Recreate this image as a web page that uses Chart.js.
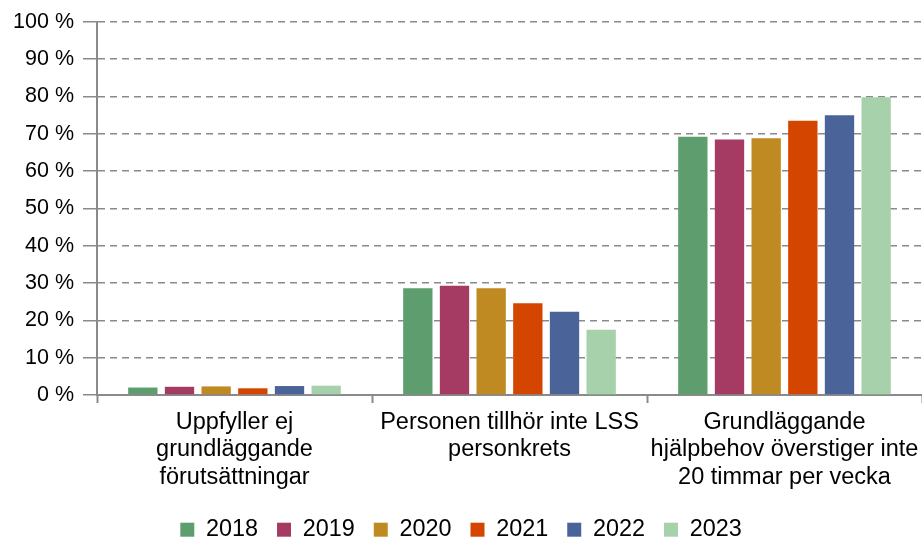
<!DOCTYPE html>
<html>
<head>
<meta charset="utf-8">
<script src="https://cdn.jsdelivr.net/npm/chart.js@4.4.1/dist/chart.umd.min.js"></script>
<style>
  html, body { margin: 0; padding: 0; background: #fff; }
  #wrap { width: 922px; height: 540px; }
</style>
</head>
<body>
<div id="wrap"><canvas id="chart" width="922" height="540"></canvas></div>
<script>
// categories (multi-line labels)
const categories = [
  ["Uppfyller ej", "grundläggande", "förutsättningar"],
  ["Personen tillhör inte LSS", "personkrets"],
  ["Grundläggande", "hjälpbehov överstiger inte", "20 timmar per vecka"]
];

const years = ["2018", "2019", "2020", "2021", "2022", "2023"];

// share in percent, one array per year
const v2018 = [2.0, 28.6, 69.2];
const v2019 = [2.2, 29.3, 68.5];
const v2020 = [2.3, 28.6, 68.8];
const v2021 = [1.8, 24.6, 73.5];
const v2022 = [2.4, 22.3, 75.0];
const v2023 = [2.5, 17.5, 79.8];

const yearColors = ["#5e9e6e", "#a53a62", "#c08a22", "#d44500", "#4a6499", "#a6d1ab"];

const seriesValues = [v2018, v2019, v2020, v2021, v2022, v2023];

const font = "'Liberation Sans', Arial, sans-serif";
const axisGray = "#8a8a8a";

// fixed legend height so the plot area lines up with the reference
const legendFix = {
  id: "legendFix",
  beforeInit(chart) {
    const fit = chart.legend.fit;
    chart.legend.fit = function () {
      fit.bind(chart.legend)();
      this.height = 41;
    };
  }
};

const ctx = document.getElementById("chart").getContext("2d");
new Chart(ctx, {
  type: "bar",
  data: {
    labels: categories,
    datasets: years.map((y, i) => ({
      label: y,
      data: seriesValues[i],
      backgroundColor: yearColors[i],
      borderWidth: 0,
      categoryPercentage: 0.8,
      barPercentage: 0.8
    }))
  },
  options: {
    responsive: false,
    animation: false,
    layout: { padding: { top: 20, right: 0, left: 0, bottom: 0 } },
    scales: {
      x: {
        afterFit: (scale) => {
          scale.height = 104;
          // labels may hang over the right edge, like in the original
          scale.paddingLeft = 0;
          scale.paddingRight = 0;
        },
        grid: {
          display: true,
          drawOnChartArea: false,
          drawTicks: true,
          tickLength: 8,
          tickColor: axisGray,
          tickWidth: 2
        },
        border: { display: true, color: axisGray, width: 2 },
        ticks: {
          color: "#000",
          font: { family: font, size: 23.5, lineHeight: 1.16 },
          padding: 6,
          maxRotation: 0,
          autoSkip: false
        }
      },
      y: {
        min: 0,
        max: 100,
        afterFit: (scale) => { scale.width = 97; },
        grid: {
          color: axisGray,
          lineWidth: 1.5,
          drawTicks: true,
          tickLength: 14,
          tickColor: axisGray,
          tickWidth: 1.5,
          tickBorderDash: []
        },
        border: { display: true, color: axisGray, width: 2, dash: [7, 5] },
        ticks: {
          stepSize: 10,
          color: "#000",
          padding: 9,
          font: { family: font, size: 21.5 },
          callback: (v) => v + " %"
        }
      }
    },
    plugins: {
      legend: {
        position: "bottom",
        labels: {
          color: "#000",
          font: { family: font, size: 23.4 },
          boxWidth: 14,
          boxHeight: 14,
          padding: 19
        }
      },
      tooltip: { enabled: false }
    }
  },
  plugins: [legendFix]
});
</script>
</body>
</html>
